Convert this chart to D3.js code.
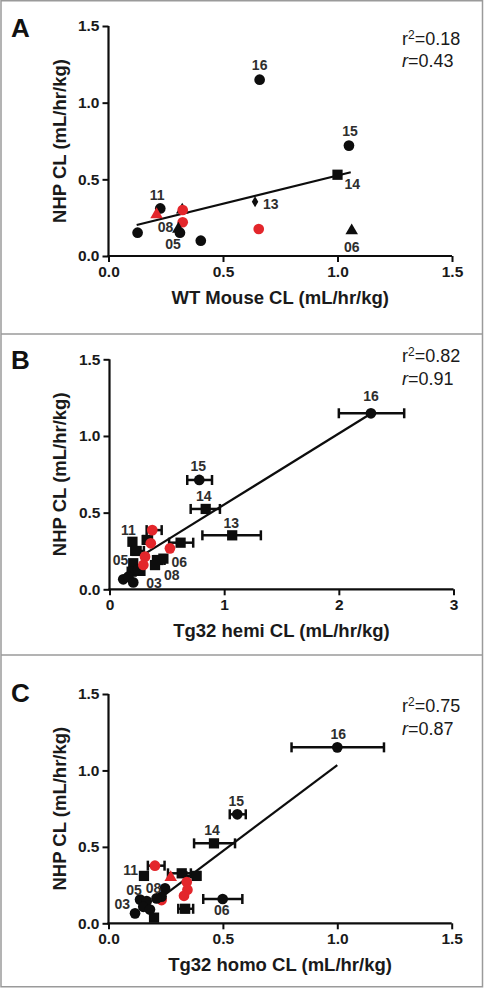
<!DOCTYPE html>
<html>
<head>
<meta charset="utf-8">
<script src="https://cdn.jsdelivr.net/npm/d3@7"></script>
<style>
  html, body { margin: 0; padding: 0; background: #fff; }
  svg { display: block; }
  text { font-family: "Liberation Sans", Arial, Helvetica, sans-serif; }
</style>
</head>
<body>
<svg id="chart" width="484" height="989"></svg>
<script>
// ---------------- DATA ----------------
const panelLetters = ["A", "B", "C"];
const xTitles = ["WT Mouse CL (mL/hr/kg)", "Tg32 hemi CL (mL/hr/kg)", "Tg32 homo CL (mL/hr/kg)"];
const yTitle = "NHP CL (mL/hr/kg)";
const r2Labels = ["0.18", "0.82", "0.75"];
const rLabels = ["0.43", "0.91", "0.87"];

const yTicks = [0, 0.5, 1.0, 1.5];
const xTicksA = [0, 0.5, 1.0, 1.5];
const xTicksB = [0, 1, 2, 3];
const xTicksC = [0, 0.5, 1.0, 1.5];
const xDomains = [[0, 1.5], [0, 3], [0, 1.5]];

// points: [x, y, shape, group, xErrLow, xErrHigh]   group: "std" (black) or "alt" (red)
const pointsA = [
  [0.127, 0.152, "circle", "std"],
  [0.226, 0.310, "circle", "std"],
  [0.210, 0.270, "triangle", "alt"],
  [0.322, 0.300, "triangle", "std"],
  [0.324, 0.300, "circle", "alt"],
  [0.324, 0.220, "circle", "alt"],
  [0.305, 0.176, "triangle", "std"],
  [0.312, 0.152, "circle", "std"],
  [0.403, 0.100, "circle", "std"],
  [0.640, 0.354, "diamond", "std"],
  [0.656, 0.176, "circle", "alt"],
  [0.660, 1.150, "circle", "std"],
  [1.050, 0.720, "circle", "std"],
  [1.000, 0.530, "square", "std"],
  [1.062, 0.165, "triangle", "std"]
];
const pointsB = [
  [2.280, 1.148, "circle", "std", 2.00, 2.57],
  [0.783, 0.713, "circle", "std", 0.678, 0.894],
  [0.839, 0.524, "square", "std", 0.708, 0.963],
  [1.070, 0.352, "square", "std", 0.81, 1.32],
  [0.620, 0.304, "square", "std", 0.52, 0.73],
  [0.200, 0.310, "square", "std"],
  [0.330, 0.322, "square", "std", 0.29, 0.37],
  [0.237, 0.250, "square", "std", 0.19, 0.30],
  [0.426, 0.191, "square", "std", 0.38, 0.48],
  [0.470, 0.200, "square", "std"],
  [0.397, 0.158, "square", "std"],
  [0.207, 0.170, "square", "std"],
  [0.193, 0.115, "square", "std"],
  [0.270, 0.120, "square", "std"],
  [0.250, 0.130, "circle", "std"],
  [0.120, 0.065, "circle", "std"],
  [0.164, 0.082, "circle", "std"],
  [0.207, 0.045, "circle", "std"],
  [0.373, 0.386, "circle", "alt", 0.324, 0.455],
  [0.360, 0.300, "circle", "alt"],
  [0.527, 0.267, "circle", "alt"],
  [0.310, 0.213, "circle", "alt"],
  [0.295, 0.159, "circle", "alt"]
];
const pointsC = [
  [1.000, 1.151, "circle", "std", 0.80, 1.204],
  [0.563, 0.713, "circle", "std", 0.53, 0.60],
  [0.461, 0.523, "square", "std", 0.374, 0.553],
  [0.499, 0.159, "circle", "std", 0.414, 0.585],
  [0.155, 0.310, "square", "std"],
  [0.320, 0.327, "square", "std", 0.26, 0.36],
  [0.385, 0.310, "square", "std", 0.34, 0.40],
  [0.335, 0.095, "square", "std", 0.305, 0.37],
  [0.203, 0.377, "circle", "alt", 0.172, 0.245],
  [0.272, 0.300, "triangle", "alt"],
  [0.342, 0.270, "circle", "alt"],
  [0.345, 0.220, "circle", "alt"],
  [0.330, 0.180, "circle", "alt"],
  [0.232, 0.152, "circle", "alt"],
  [0.247, 0.229, "circle", "std"],
  [0.232, 0.174, "circle", "std"],
  [0.210, 0.163, "circle", "std"],
  [0.138, 0.155, "circle", "std"],
  [0.167, 0.145, "circle", "std"],
  [0.152, 0.108, "circle", "std"],
  [0.116, 0.065, "circle", "std"],
  [0.181, 0.090, "circle", "std"],
  [0.199, 0.037, "square", "std"]
];

// regression lines: [slope, intercept, xStart, xEnd]
const fitA = [0.368, 0.157, 0.123, 1.058];
const fitB = [0.4635, 0.089, 0.30, 2.285];
const fitC = [1.125, -0.090, 0.225, 1.0];

// point labels: [text, index of point in panel array]
const labelsA = [["16", 11], ["15", 12], ["14", 13], ["13", 9], ["11", 1], ["08", 6], ["05", 7], ["06", 14]];
const labelsB = [["16", 0], ["15", 1], ["14", 2], ["13", 3], ["11", 5], ["05", 11], ["06", 9], ["08", 10], ["03", 17]];
const labelsC = [["16", 0], ["15", 1], ["14", 2], ["11", 4], ["05", 17], ["08", 16], ["03", 20], ["06", 3]];

// ---------------- LAYOUT ----------------
const layout = [
  { x0: 108.5, x1: 452, y0: 256, y1: 26, top: 0, letterY: 37, r2Y: 45, rY: 67,
    lab: { "16": ["middle", 0, -10], "15": ["middle", 1, -10], "14": ["start", 7, 14], "13": ["start", 8, 7],
           "11": ["middle", -3, -8], "08": ["end", -5, 3], "05": ["middle", -7, 16], "06": ["middle", 0, 21] } },
  { x0: 109.5, x1: 453.5, y0: 589.3, y1: 359.3, top: 334, letterY: 369, r2Y: 362, rY: 385,
    lab: { "16": ["middle", 0, -12], "15": ["middle", -1, -9], "14": ["middle", -2, -8], "13": ["middle", -1, -7],
           "11": ["middle", -4, -7], "05": ["end", -5, 2], "06": ["start", 8, 8], "08": ["start", 9, 15], "03": ["start", 13, 6] } },
  { x0: 108.5, x1: 451.7, y0: 923.3, y1: 694, top: 655, letterY: 702, r2Y: 712, rY: 735,
    lab: { "16": ["middle", 1, -8], "15": ["middle", -1, -8], "14": ["middle", -2, -8], "11": ["end", -6, -1],
           "05": ["middle", -6, -5], "08": ["middle", -3, -5], "03": ["end", -5, -4], "06": ["middle", -1, 16] } }
];

const BLACK = "#0d0d0d";
const RED = "#e3262b";
const TEXT = "#1a1a1a";
const LABEL = "#2e2e2e";

const svg = d3.select("#chart");

// frame
svg.append("rect").attr("x", 1).attr("y", 0.75).attr("width", 481.5).attr("height", 986)
  .attr("fill", "none").attr("stroke", "#9a9a9a").attr("stroke-width", 1.5);
[334, 655].forEach(yy => {
  svg.append("line").attr("x1", 1).attr("x2", 482.5).attr("y1", yy).attr("y2", yy)
    .attr("stroke", "#9a9a9a").attr("stroke-width", 1.5);
});

const allPoints = [pointsA, pointsB, pointsC];
const allFits = [fitA, fitB, fitC];
const allLabels = [labelsA, labelsB, labelsC];
const allXTicks = [xTicksA, xTicksB, xTicksC];

const symbolFor = {
  circle: d3.symbol().type(d3.symbolCircle).size(90),
  square: d3.symbol().type(d3.symbolSquare).size(105),
  triangle: d3.symbol().type(d3.symbolTriangle).size(68),
  diamond: d3.symbol().type(d3.symbolDiamond).size(36)
};

layout.forEach((L, i) => {
  const g = svg.append("g");
  const x = d3.scaleLinear().domain(xDomains[i]).range([L.x0, L.x1]);
  const y = d3.scaleLinear().domain([0, 1.5]).range([L.y0, L.y1]);

  // axes
  const yAxis = d3.axisLeft(y).tickValues(yTicks).tickFormat(d3.format(".1f")).tickSize(6).tickPadding(3);
  const xFmt = i === 1 ? d3.format("d") : d3.format(".1f");
  const xAxis = d3.axisBottom(x).tickValues(allXTicks[i]).tickFormat(xFmt).tickSize(6).tickPadding(4);

  const ya = g.append("g").attr("transform", `translate(${L.x0},0)`).call(yAxis);
  const xa = g.append("g").attr("transform", `translate(0,${L.y0})`).call(xAxis);
  [ya, xa].forEach(a => {
    a.select(".domain").attr("stroke", BLACK).attr("stroke-width", 2.2);
    a.selectAll(".tick line").attr("stroke", BLACK).attr("stroke-width", 2);
    a.selectAll(".tick text").attr("fill", TEXT).style("font-size", "15.5px").style("font-weight", "bold")
      .style("font-family", "'Liberation Sans', Arial, sans-serif");
  });
  ya.select(".domain").attr("d", `M0,${L.y0 + 1}V${L.y1}`);
  xa.select(".domain").attr("d", `M${L.x0 - 1},0H${L.x1}`);

  // titles
  g.append("text").attr("x", (L.x0 + L.x1) / 2).attr("y", L.y0 + 48)
    .attr("text-anchor", "middle").attr("fill", TEXT)
    .style("font-size", "18.5px").style("font-weight", "bold").text(xTitles[i]);
  g.append("text").attr("transform", `translate(66,${(L.y0 + L.y1) / 2}) rotate(-90)`)
    .attr("text-anchor", "middle").attr("fill", TEXT)
    .style("font-size", "18.5px").style("font-weight", "bold").text(yTitle);

  // panel letter
  g.append("text").attr("x", 11).attr("y", L.letterY).attr("fill", "#111")
    .style("font-size", "26px").style("font-weight", "bold").text(panelLetters[i]);

  // r^2 / r
  const t1 = g.append("text").attr("x", 402).attr("y", L.r2Y).attr("fill", TEXT).style("font-size", "18px");
  t1.append("tspan").text("r");
  t1.append("tspan").attr("dy", -6).style("font-size", "12px").text("2");
  t1.append("tspan").attr("dy", 6).text("=" + r2Labels[i]);
  const t2 = g.append("text").attr("x", 402).attr("y", L.rY).attr("fill", TEXT).style("font-size", "18px");
  t2.append("tspan").style("font-style", "italic").text("r");
  t2.append("tspan").text("=" + rLabels[i]);

  // regression line
  const f = allFits[i];
  g.append("line")
    .attr("x1", x(f[2])).attr("y1", y(f[0] * f[2] + f[1]))
    .attr("x2", x(f[3])).attr("y2", y(f[0] * f[3] + f[1]))
    .attr("stroke", BLACK).attr("stroke-width", 2.2);

  const pts = allPoints[i];

  // error bars
  const eb = g.append("g");
  pts.filter(p => p.length > 4).forEach(p => {
    const yy = y(p[1]);
    eb.append("line").attr("x1", x(p[4])).attr("x2", x(p[5])).attr("y1", yy).attr("y2", yy)
      .attr("stroke", BLACK).attr("stroke-width", 2.5);
    [p[4], p[5]].forEach(v => {
      eb.append("line").attr("x1", x(v)).attr("x2", x(v)).attr("y1", yy - 5).attr("y2", yy + 5)
        .attr("stroke", BLACK).attr("stroke-width", 2.5);
    });
  });

  // points
  g.append("g").selectAll("path").data(pts).join("path")
    .attr("transform", p => `translate(${x(p[0])},${y(p[1])})`)
    .attr("d", p => symbolFor[p[2]]())
    .attr("fill", p => p[3] === "alt" ? RED : BLACK);

  // labels
  allLabels[i].forEach(([txt, idx]) => {
    const p = pts[idx];
    const o = L.lab[txt];
    g.append("text").attr("x", x(p[0]) + o[1]).attr("y", y(p[1]) + o[2])
      .attr("text-anchor", o[0]).attr("fill", LABEL)
      .style("font-size", "14px").style("font-weight", "bold").text(txt);
  });
});
</script>
</body>
</html>
